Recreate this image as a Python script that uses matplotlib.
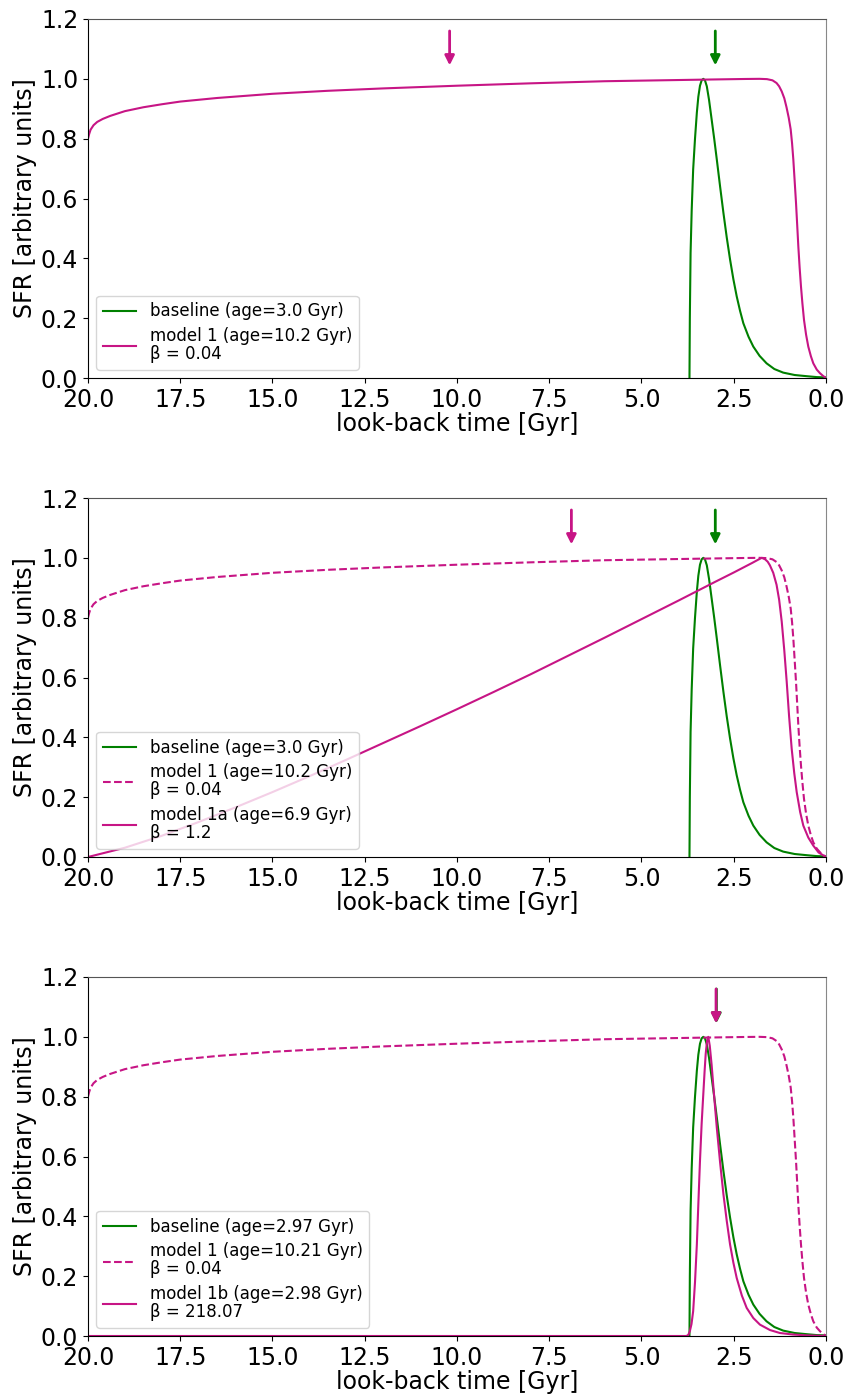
import matplotlib
matplotlib.use("Agg")
import matplotlib.pyplot as plt

# ---- star-formation histories (look-back time in Gyr, SFR normalised) ----
baseline_t = [3.70, 3.69, 3.67, 3.64, 3.60, 3.55, 3.50, 3.46, 3.415, 3.37, 3.325, 3.28,
              3.23, 3.17, 3.10, 3.03, 2.96, 2.87, 2.78, 2.69, 2.60, 2.51, 2.42, 2.33,
              2.24, 2.10, 1.97, 1.80, 1.61, 1.40, 1.16, 0.85, 0.52, 0.25, 0.0]
baseline_sfr = [0.0, 0.20, 0.418, 0.56, 0.697, 0.80, 0.887, 0.94, 0.977, 0.995, 1.0, 0.995,
                0.975, 0.93, 0.865, 0.80, 0.731, 0.64, 0.552, 0.47, 0.396, 0.33, 0.273,
                0.225, 0.183, 0.138, 0.105, 0.074, 0.049, 0.030, 0.018, 0.010, 0.006,
                0.003, 0.002]

model1_t = [20.0, 19.97, 19.93, 19.85, 19.75, 19.6, 19.4, 19.0, 18.5, 18.0, 17.5, 16.5,
            15.0, 13.5, 12.0, 10.0, 8.0, 6.0, 4.0, 3.0, 2.2, 1.8, 1.6, 1.45, 1.34, 1.27,
            1.20, 1.13, 1.07, 1.01, 0.957, 0.92, 0.886, 0.85, 0.813, 0.78, 0.75, 0.715,
            0.678, 0.64, 0.596, 0.54, 0.48, 0.41, 0.344, 0.25, 0.163, 0.08, 0.0]
model1_sfr = [0.800, 0.815, 0.830, 0.845, 0.856, 0.866, 0.876, 0.892, 0.905, 0.915, 0.924,
              0.936, 0.950, 0.960, 0.968, 0.977, 0.985, 0.992, 0.996, 0.998, 0.9995, 1.0,
              0.999, 0.995, 0.986, 0.975, 0.958, 0.935, 0.905, 0.870, 0.831, 0.785,
              0.731, 0.660, 0.586, 0.510, 0.440, 0.370, 0.306, 0.250, 0.194, 0.145,
              0.105, 0.073, 0.049, 0.028, 0.016, 0.007, 0.0]

model1a_t = [20.0, 19.0, 18.0, 17.0, 16.0, 15.0, 14.0, 13.0, 12.0, 11.0, 10.0, 9.0, 8.0,
             7.0, 6.0, 5.0, 4.0, 3.0, 2.5, 2.0, 1.85, 1.74, 1.65, 1.58, 1.52, 1.43, 1.34,
             1.27, 1.20, 1.13, 1.065, 1.0, 0.93, 0.86, 0.794, 0.70, 0.615, 0.48, 0.344,
             0.2, 0.0]
model1a_sfr = [0.0, 0.031, 0.071, 0.117, 0.166, 0.217, 0.270, 0.325, 0.381, 0.437, 0.494,
               0.552, 0.611, 0.672, 0.733, 0.795, 0.857, 0.920, 0.951, 0.983, 0.993, 1.0,
               0.995, 0.987, 0.975, 0.950, 0.910, 0.860, 0.787, 0.690, 0.586, 0.470,
               0.362, 0.280, 0.217, 0.150, 0.105, 0.065, 0.038, 0.015, 0.0]

model1b_t = [20.0, 3.78, 3.73, 3.69, 3.645, 3.60, 3.55, 3.50, 3.46, 3.415, 3.37, 3.325,
             3.29, 3.26, 3.225, 3.19, 3.15, 3.10, 3.03, 2.96, 2.87, 2.78, 2.69, 2.60,
             2.51, 2.42, 2.28, 2.15, 1.97, 1.79, 1.52, 1.25, 0.9, 0.52, 0.0]
model1b_sfr = [0.0, 0.0, 0.004, 0.016, 0.040, 0.083, 0.180, 0.306, 0.440, 0.586, 0.710,
               0.809, 0.885, 0.943, 0.985, 1.0, 0.970, 0.907, 0.800, 0.697, 0.580, 0.474,
               0.385, 0.306, 0.245, 0.194, 0.135, 0.094, 0.060, 0.038, 0.020, 0.010,
               0.005, 0.002, 0.0]

# ages marked with arrows
ages_top = {"baseline": 3.0, "model 1": 10.2}
ages_mid = {"baseline": 3.0, "model 1a": 6.9}
ages_bot = {"baseline": 2.97, "model 1b": 2.98}

x_ticks = [20.0, 17.5, 15.0, 12.5, 10.0, 7.5, 5.0, 2.5, 0.0]
y_ticks = [0.0, 0.2, 0.4, 0.6, 0.8, 1.0, 1.2]

GREEN = "green"
MAGENTA = "mediumvioletred"

fig = plt.figure(figsize=(8.48, 13.98), dpi=100)
left, width, height = 88 / 848, 738 / 848, 359 / 1398
bottoms = [(1398 - 378) / 1398, (1398 - 857) / 1398, (1398 - 1336) / 1398]
axes = [fig.add_axes([left, b, width, height]) for b in bottoms]


def age_arrow(ax, age, color):
    ax.annotate("", xy=(age, 1.045), xytext=(age, 1.16),
                arrowprops=dict(arrowstyle="-|>", color=color, lw=2,
                                mutation_scale=14, shrinkA=0, shrinkB=0))


def style(ax):
    ax.set_xlim(20, 0)
    ax.set_ylim(0, 1.2)
    ax.set_xticks(x_ticks)
    ax.set_yticks(y_ticks)
    ax.set_xticklabels([f"{v:.1f}" for v in x_ticks])
    ax.set_yticklabels([f"{v:.1f}" for v in y_ticks])
    ax.tick_params(labelsize=17)
    ax.set_xlabel("look-back time [Gyr]", fontsize=17, labelpad=0)
    ax.set_ylabel("SFR [arbitrary units]", fontsize=17, labelpad=3)
    ax.spines["top"].set_color("#555555")
    ax.spines["right"].set_color("#888888")
    leg = ax.legend(loc="lower left", fontsize=12, handlelength=2.0, labelspacing=0.4)
    for txt in leg.get_texts():
        txt.set_linespacing(1.0)


# top panel
ax = axes[0]
ax.plot(baseline_t, baseline_sfr, color=GREEN, lw=1.5, label="baseline (age=3.0 Gyr)")
ax.plot(model1_t, model1_sfr, color=MAGENTA, lw=1.5,
        label="model 1 (age=10.2 Gyr)\nβ = 0.04")
age_arrow(ax, ages_top["model 1"], MAGENTA)
age_arrow(ax, ages_top["baseline"], GREEN)
style(ax)

# middle panel
ax = axes[1]
ax.plot(baseline_t, baseline_sfr, color=GREEN, lw=1.5, label="baseline (age=3.0 Gyr)")
ax.plot(model1_t, model1_sfr, color=MAGENTA, lw=1.5, ls="--",
        label="model 1 (age=10.2 Gyr)\nβ = 0.04")
ax.plot(model1a_t, model1a_sfr, color=MAGENTA, lw=1.5,
        label="model 1a (age=6.9 Gyr)\nβ = 1.2")
age_arrow(ax, ages_mid["model 1a"], MAGENTA)
age_arrow(ax, ages_mid["baseline"], GREEN)
style(ax)

# bottom panel
ax = axes[2]
ax.plot(baseline_t, baseline_sfr, color=GREEN, lw=1.5, label="baseline (age=2.97 Gyr)")
ax.plot(model1_t, model1_sfr, color=MAGENTA, lw=1.5, ls="--",
        label="model 1 (age=10.21 Gyr)\nβ = 0.04")
ax.plot(model1b_t, model1b_sfr, color=MAGENTA, lw=1.5,
        label="model 1b (age=2.98 Gyr)\nβ = 218.07")
age_arrow(ax, ages_bot["baseline"], GREEN)
age_arrow(ax, ages_bot["model 1b"], MAGENTA)
style(ax)

fig.savefig("out.png", dpi=100)
